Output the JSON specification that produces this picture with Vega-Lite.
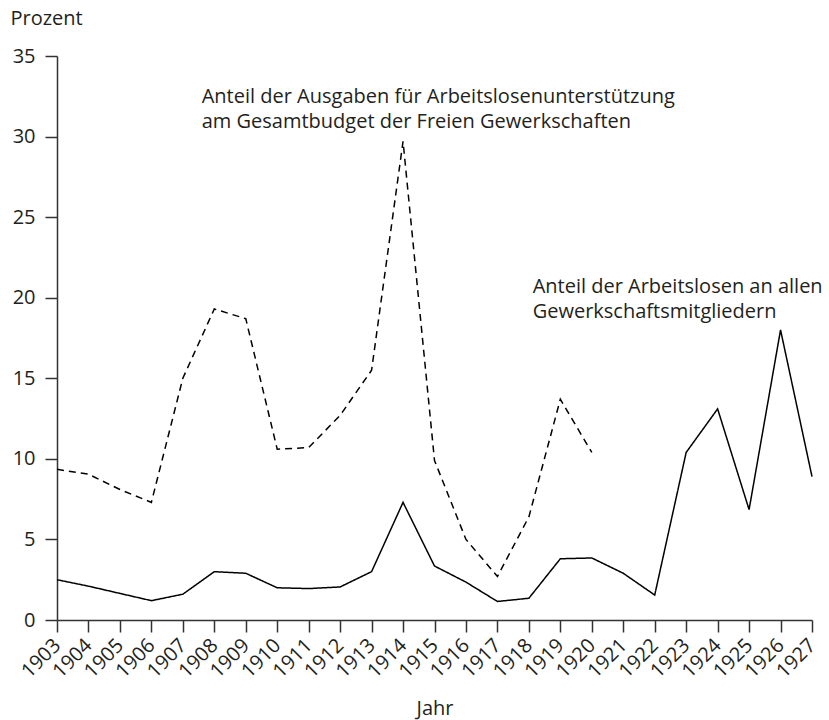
{
  "$schema": "https://vega.github.io/schema/vega-lite/v6.json",
  "width": 755,
  "height": 564,
  "autosize": {"type": "none"},
  "padding": {"left": 57, "top": 56, "right": 17, "bottom": 100},
  "background": "white",
  "config": {
    "view": {"stroke": null},
    "font": "Open Sans",
    "text": {"font": "Open Sans"}
  },
  "datasets": {
    "series": [
      {"Jahr": "1903", "Wert": 2.5, "Reihe": "Arbeitslose"},
      {"Jahr": "1904", "Wert": 2.1, "Reihe": "Arbeitslose"},
      {"Jahr": "1905", "Wert": 1.65, "Reihe": "Arbeitslose"},
      {"Jahr": "1906", "Wert": 1.2, "Reihe": "Arbeitslose"},
      {"Jahr": "1907", "Wert": 1.6, "Reihe": "Arbeitslose"},
      {"Jahr": "1908", "Wert": 3.0, "Reihe": "Arbeitslose"},
      {"Jahr": "1909", "Wert": 2.9, "Reihe": "Arbeitslose"},
      {"Jahr": "1910", "Wert": 2.0, "Reihe": "Arbeitslose"},
      {"Jahr": "1911", "Wert": 1.95, "Reihe": "Arbeitslose"},
      {"Jahr": "1912", "Wert": 2.05, "Reihe": "Arbeitslose"},
      {"Jahr": "1913", "Wert": 3.0, "Reihe": "Arbeitslose"},
      {"Jahr": "1914", "Wert": 7.3, "Reihe": "Arbeitslose"},
      {"Jahr": "1915", "Wert": 3.35, "Reihe": "Arbeitslose"},
      {"Jahr": "1916", "Wert": 2.35, "Reihe": "Arbeitslose"},
      {"Jahr": "1917", "Wert": 1.15, "Reihe": "Arbeitslose"},
      {"Jahr": "1918", "Wert": 1.35, "Reihe": "Arbeitslose"},
      {"Jahr": "1919", "Wert": 3.8, "Reihe": "Arbeitslose"},
      {"Jahr": "1920", "Wert": 3.85, "Reihe": "Arbeitslose"},
      {"Jahr": "1921", "Wert": 2.9, "Reihe": "Arbeitslose"},
      {"Jahr": "1922", "Wert": 1.55, "Reihe": "Arbeitslose"},
      {"Jahr": "1923", "Wert": 10.4, "Reihe": "Arbeitslose"},
      {"Jahr": "1924", "Wert": 13.1, "Reihe": "Arbeitslose"},
      {"Jahr": "1925", "Wert": 6.85, "Reihe": "Arbeitslose"},
      {"Jahr": "1926", "Wert": 18.0, "Reihe": "Arbeitslose"},
      {"Jahr": "1927", "Wert": 8.9, "Reihe": "Arbeitslose"},
      {"Jahr": "1903", "Wert": 9.35, "Reihe": "Ausgaben"},
      {"Jahr": "1904", "Wert": 9.05, "Reihe": "Ausgaben"},
      {"Jahr": "1905", "Wert": 8.1, "Reihe": "Ausgaben"},
      {"Jahr": "1906", "Wert": 7.3, "Reihe": "Ausgaben"},
      {"Jahr": "1907", "Wert": 15.0, "Reihe": "Ausgaben"},
      {"Jahr": "1908", "Wert": 19.3, "Reihe": "Ausgaben"},
      {"Jahr": "1909", "Wert": 18.7, "Reihe": "Ausgaben"},
      {"Jahr": "1910", "Wert": 10.6, "Reihe": "Ausgaben"},
      {"Jahr": "1911", "Wert": 10.7, "Reihe": "Ausgaben"},
      {"Jahr": "1912", "Wert": 12.7, "Reihe": "Ausgaben"},
      {"Jahr": "1913", "Wert": 15.5, "Reihe": "Ausgaben"},
      {"Jahr": "1914", "Wert": 29.7, "Reihe": "Ausgaben"},
      {"Jahr": "1915", "Wert": 9.9, "Reihe": "Ausgaben"},
      {"Jahr": "1916", "Wert": 5.0, "Reihe": "Ausgaben"},
      {"Jahr": "1917", "Wert": 2.7, "Reihe": "Ausgaben"},
      {"Jahr": "1918", "Wert": 6.4, "Reihe": "Ausgaben"},
      {"Jahr": "1919", "Wert": 13.7, "Reihe": "Ausgaben"},
      {"Jahr": "1920", "Wert": 10.4, "Reihe": "Ausgaben"}
    ],
    "labels": [
      {"Jahr": 1907.6, "Wert": 32.1, "Text": "Anteil der Ausgaben für Arbeitslosenunterstützung\nam Gesamtbudget der Freien Gewerkschaften"},
      {"Jahr": 1918.12, "Wert": 20.3, "Text": "Anteil der Arbeitslosen an allen\nGewerkschaftsmitgliedern"}
    ]
  },
  "resolve": {"scale": {"x": "independent"}, "axis": {"x": "independent"}},
  "layer": [
    {
      "data": {"name": "series"},
      "mark": {"type": "line", "color": "black", "strokeWidth": 1.5},
      "encoding": {
        "x": {
          "field": "Jahr", "type": "ordinal",
          "scale": {"type": "point", "padding": 0},
          "axis": {
            "title": "Jahr",
            "grid": false,
            "domainColor": "#333333", "domainWidth": 1.5,
            "tickColor": "#333333", "tickWidth": 1.5, "tickSize": 12,
            "labelAngle": -45, "labelAlign": "right", "labelBaseline": "middle",
            "labelPadding": 10, "labelFontSize": 20, "labelColor": "#231f20",
            "labelFont": "Open Sans", "labelFlush": false, "labelOverlap": false,
            "labelBound": false,
            "titleFont": "Open Sans", "titleFontSize": 20, "titleFontWeight": "normal",
            "titleColor": "#231f20", "titleBaseline": "alphabetic", "titleY": 94
          }
        },
        "y": {
          "field": "Wert", "type": "quantitative",
          "scale": {"domain": [0, 35], "nice": false},
          "axis": {
            "title": "Prozent",
            "values": [0, 5, 10, 15, 20, 25, 30, 35],
            "grid": false,
            "domainColor": "#333333", "domainWidth": 1.5,
            "tickColor": "#333333", "tickWidth": 1.5, "tickSize": 12,
            "labelPadding": 10, "labelFontSize": 20, "labelColor": "#231f20",
            "labelFont": "Open Sans", "labelFlush": false,
            "titleFont": "Open Sans", "titleFontSize": 20, "titleFontWeight": "normal",
            "titleColor": "#231f20", "titleAngle": 0, "titleAlign": "left",
            "titleBaseline": "alphabetic", "titleX": -47, "titleY": -32
          }
        },
        "strokeDash": {
          "field": "Reihe", "type": "nominal",
          "scale": {"domain": ["Arbeitslose", "Ausgaben"], "range": [[1, 0], [7, 5]]},
          "legend": null
        }
      }
    },
    {
      "data": {"name": "labels"},
      "mark": {"type": "text", "align": "left", "baseline": "alphabetic", "lineBreak": "\n", "lineHeight": 25, "fontSize": 20, "font": "Open Sans", "color": "#231f20"},
      "encoding": {
        "x": {"field": "Jahr", "type": "quantitative", "scale": {"domain": [1903, 1927], "nice": false, "zero": false}, "axis": null},
        "y": {"field": "Wert", "type": "quantitative"},
        "text": {"field": "Text", "type": "nominal"}
      }
    }
  ]
}
